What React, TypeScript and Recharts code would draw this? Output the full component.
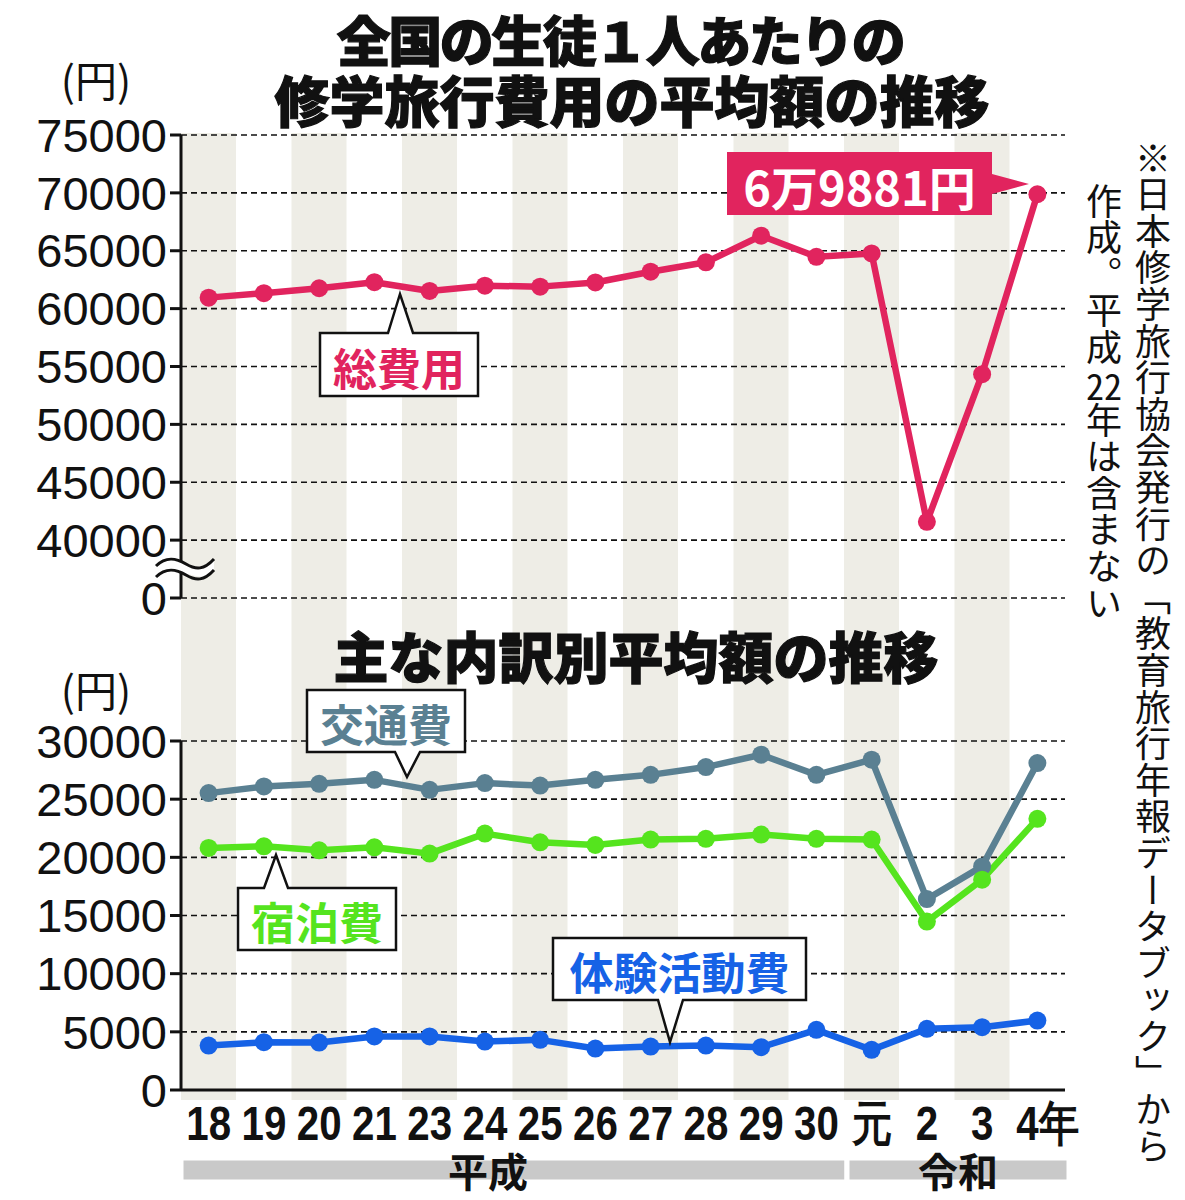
import React from 'react';
import {
  ComposedChart,
  BarChart,
  Bar,
  Line,
  XAxis,
  YAxis,
  CartesianGrid,
  ReferenceArea,
} from 'recharts';

// ---------- data ----------
const years = ['18', '19', '20', '21', '23', '24', '25', '26', '27', '28', '29', '30', '元', '2', '3', '4年'];
const totalCost = [60950, 61330, 61760, 62280, 61530, 61980, 61900, 62260, 63190, 64000, 66300, 64480, 64770, 41580, 54340, 69881];
const transportCost = [25520, 26090, 26320, 26660, 25800, 26380, 26170, 26660, 27090, 27760, 28820, 27090, 28390, 16410, 19220, 28100];
const lodgingCost = [20810, 20950, 20600, 20860, 20320, 22040, 21290, 21060, 21530, 21590, 21960, 21590, 21530, 14480, 18080, 23310];
const activityCost = [3820, 4110, 4080, 4600, 4600, 4160, 4310, 3560, 3730, 3820, 3680, 5170, 3450, 5260, 5400, 5970];
const shadedBands = [1, 0, 1, 0, 1, 0, 1, 0, 1, 0, 1, 0, 1, 0, 1, 0];
const topTickLabels = [0, 40000, 45000, 50000, 55000, 60000, 65000, 70000, 75000];
const bottomTickLabels = [0, 5000, 10000, 15000, 20000, 25000, 30000];
const eras = [
  { name: '平成', from: '18', to: '30', dx: -26 },
  { name: '令和', from: '元', to: '4年', dx: 0 },
];

// axis break: 0..40000 compressed into one 5000 step
const BREAK_AT = 40000;
const BREAK_STEP = 5000;
const toBroken = (v: number) => (v >= BREAK_AT ? v - BREAK_AT + BREAK_STEP : (v / BREAK_AT) * BREAK_STEP);
const fromBroken = (t: number) => (t >= BREAK_STEP ? t + BREAK_AT - BREAK_STEP : (t / BREAK_STEP) * BREAK_AT);

const bandData = years.map((y, i) => ({ year: y, band: shadedBands[i] }));
const topData = years.map((y, i) => ({ year: y, total: toBroken(totalCost[i]) }));
const bottomData = years.map((y, i) => ({
  year: y,
  transport: transportCost[i],
  lodging: lodgingCost[i],
  activity: activityCost[i],
}));

// ---------- style ----------
const W = 1185;
const RIGHT = 120;
const AXIS_W = 181;
const PINK = '#e1245e';
const SLATE = '#5a8092';
const GREEN = '#55e41e';
const BLUE = '#1662e6';
const BAND = '#eeede6';
const NUM_FONT = "'Liberation Sans', Arial, sans-serif";
const JP_FONT = "'Noto Sans CJK JP', 'Noto Sans', sans-serif";

const abs = (top: number): React.CSSProperties => ({ position: 'absolute', left: 0, top });

const XTick = (props: any) => {
  const { x, y, payload } = props;
  const v = String(payload.value);
  const shift = v.endsWith('年') ? 10 : 0;
  return (
    <g transform={`translate(${x + shift},${y + 50}) scale(0.84,1)`}>
      <text
        x={0}
        y={0}
        textAnchor="middle"
        fontSize={48}
        fontWeight="bold"
        fontFamily={NUM_FONT}
        fill="#111"
      >
        {v}
      </text>
    </g>
  );
};

type CalloutProps = {
  x1: number; y1: number; x2: number; y2: number;
  side: 'top' | 'bottom' | 'right';
  b1: number; b2: number; tx: number; ty: number;
  fill: string; text: string; color: string; fontSize: number; strokeColor?: string;
};

const Callout = ({ x1, y1, x2, y2, side, b1, b2, tx, ty, fill, text, color, fontSize, strokeColor }: CalloutProps) => {
  let d = '';
  if (side === 'top') {
    d = `M${x1},${y1} L${b1},${y1} L${tx},${ty} L${b2},${y1} L${x2},${y1} L${x2},${y2} L${x1},${y2} Z`;
  } else if (side === 'bottom') {
    d = `M${x1},${y1} L${x2},${y1} L${x2},${y2} L${b2},${y2} L${tx},${ty} L${b1},${y2} L${x1},${y2} Z`;
  } else {
    d = `M${x1},${y1} L${x2},${y1} L${x2},${b1} L${tx},${ty} L${x2},${b2} L${x2},${y2} L${x1},${y2} Z`;
  }
  return (
    <g>
      <path d={d} fill={fill} stroke={strokeColor || 'none'} strokeWidth={strokeColor ? 2.5 : 0} strokeLinejoin="miter" />
      <text
        x={(x1 + x2) / 2}
        y={(y1 + y2) / 2 + 2}
        textAnchor="middle"
        dominantBaseline="central"
        fontSize={fontSize}
        fontWeight="bold"
        fontFamily={JP_FONT}
        fill={color}
      >
        {text}
      </text>
    </g>
  );
};

export default function App() {
  return (
    <div style={{ position: 'absolute', left: 0, top: 0, width: W, height: 1200, background: '#fff', overflow: 'hidden' }}>
      {/* background category bands */}
      <div style={abs(0)}>
        <BarChart width={W} height={1100} data={bandData} margin={{ top: 133, right: RIGHT, bottom: 0, left: AXIS_W }} barCategoryGap={0}>
          <XAxis dataKey="year" hide />
          <YAxis hide domain={[0, 1]} />
          <Bar dataKey="band" fill={BAND} isAnimationActive={false} />
        </BarChart>
      </div>

      {/* era bars */}
      <div style={abs(0)}>
        <ComposedChart width={W} height={1200} data={bandData} margin={{ top: 1158, right: RIGHT - 4, bottom: 18, left: AXIS_W }}>
          <XAxis dataKey="year" hide scale="band" />
          <YAxis hide domain={[0, 1]} />
          <Line dataKey="band" stroke="none" dot={false} isAnimationActive={false} />
          {eras.map((e) => (
            <ReferenceArea
              key={e.name}
              x1={e.from}
              x2={e.to}
              y1={0}
              y2={1}
              fill="#c9c9c9"
              fillOpacity={1}
              stroke="#fff"
              strokeWidth={5}
              ifOverflow="visible"
              label={{
                value: e.name,
                position: 'center',
                fontSize: 40,
                fontWeight: 'bold',
                fill: '#111',
                fontFamily: JP_FONT,
                dx: e.dx,
                dy: 3,
              } as any}
            />
          ))}
        </ComposedChart>
      </div>

      {/* top chart: total cost */}
      <div style={abs(0)}>
        <ComposedChart width={W} height={620} data={topData} margin={{ top: 135, right: RIGHT, bottom: 22, left: 0 }}>
          <CartesianGrid vertical={false} stroke="#111" strokeDasharray="6 4" strokeWidth={1.6} />
          <XAxis dataKey="year" scale="band" height={0} tick={false} tickLine={false} axisLine={{ stroke: '#111', strokeWidth: 3 }} />
          <YAxis
            width={AXIS_W}
            domain={[0, toBroken(75000)]}
            ticks={topTickLabels.map(toBroken)}
            interval={0}
            tickFormatter={(t: number) => String(Math.round(fromBroken(t)))}
            tick={{ fontSize: 47, fill: '#111', fontFamily: NUM_FONT }}
            tickSize={11}
            tickMargin={3}
            tickLine={{ stroke: '#111', strokeWidth: 3 }}
            axisLine={{ stroke: '#111', strokeWidth: 3 }}
          />
          <Line
            dataKey="total"
            stroke={PINK}
            strokeWidth={6.5}
            strokeLinejoin="round"
            dot={{ r: 9, fill: PINK, stroke: PINK, strokeWidth: 0 }}
            isAnimationActive={false}
          />
        </ComposedChart>
      </div>

      {/* bottom chart: breakdown */}
      <div style={abs(0)}>
        <ComposedChart width={W} height={1200} data={bottomData} margin={{ top: 741, right: RIGHT, bottom: 50, left: 0 }}>
          <CartesianGrid vertical={false} stroke="#111" strokeDasharray="6 4" strokeWidth={1.6} />
          <XAxis
            dataKey="year"
            scale="band"
            height={60}
            interval={0}
            tickSize={0}
            tickMargin={0}
            tickLine={false}
            tick={<XTick />}
            axisLine={{ stroke: '#111', strokeWidth: 3 }}
          />
          <YAxis
            width={AXIS_W}
            domain={[0, 30000]}
            ticks={bottomTickLabels}
            interval={0}
            tick={{ fontSize: 47, fill: '#111', fontFamily: NUM_FONT }}
            tickSize={11}
            tickMargin={3}
            tickLine={{ stroke: '#111', strokeWidth: 3 }}
            axisLine={{ stroke: '#111', strokeWidth: 3 }}
          />
          <Line dataKey="transport" stroke={SLATE} strokeWidth={6.5} strokeLinejoin="round"
            dot={{ r: 9, fill: SLATE, stroke: SLATE, strokeWidth: 0 }} isAnimationActive={false} />
          <Line dataKey="lodging" stroke={GREEN} strokeWidth={6.5} strokeLinejoin="round"
            dot={{ r: 9, fill: GREEN, stroke: GREEN, strokeWidth: 0 }} isAnimationActive={false} />
          <Line dataKey="activity" stroke={BLUE} strokeWidth={6.5} strokeLinejoin="round"
            dot={{ r: 9, fill: BLUE, stroke: BLUE, strokeWidth: 0 }} isAnimationActive={false} />
        </ComposedChart>
      </div>

      {/* annotations overlay */}
      <svg width={W} height={1200} style={{ position: 'absolute', left: 0, top: 0, pointerEvents: 'none' }}>
        <g stroke="#111" strokeWidth={1.2} fill="#111" fontFamily={JP_FONT} fontWeight={900} textAnchor="middle">
          <text x={620} y={62} fontSize={54} letterSpacing={-2.5}>
            全国の生徒１人あたりの
          </text>
          <text x={632} y={122} fontSize={55}>
            修学旅行費用の平均額の推移
          </text>
          <text x={636} y={678} fontSize={55}>
            主な内訳別平均額の推移
          </text>
        </g>
        <text x={96} y={97} textAnchor="middle" fontSize={42} fontFamily={JP_FONT} fill="#111">
          (円)
        </text>
        <text x={96} y={707} textAnchor="middle" fontSize={42} fontFamily={JP_FONT} fill="#111">
          (円)
        </text>

        {/* axis break mark */}
        <path d="M156,566 C166,556 176,558 186,564 S204,570 214,559 L214,570 C204,581 196,575 186,574 S166,566 156,577 Z" fill="#fff" />
        <path d="M156,566 C166,556 176,558 186,564 S204,570 214,559" fill="none" stroke="#111" strokeWidth={3} />
        <path d="M156,577 C166,567 176,569 186,575 S204,581 214,570" fill="none" stroke="#111" strokeWidth={3} />

        <Callout x1={320} y1={333} x2={478} y2={396} side="top" b1={388} b2={413} tx={400} ty={294}
          fill="#fff" strokeColor="#111" text="総費用" color={PINK} fontSize={44} />
        <Callout x1={727} y1={152} x2={992} y2={215} side="right" b1={174} b2={194} tx={1029} ty={184}
          fill={PINK} text="6万9881円" color="#fff" fontSize={47} />
        <Callout x1={307} y1={690} x2={465} y2={752} side="bottom" b1={395} b2={420} tx={407} ty={777}
          fill="#fff" strokeColor="#111" text="交通費" color={SLATE} fontSize={44} />
        <Callout x1={238} y1={888} x2={396} y2={950} side="top" b1={264} b2={288} tx={276} ty={855}
          fill="#fff" strokeColor="#111" text="宿泊費" color={GREEN} fontSize={44} />
        <Callout x1={553} y1={938} x2={806} y2={1000} side="bottom" b1={658} b2={683} tx={670} ty={1042}
          fill="#fff" strokeColor="#111" text="体験活動費" color={BLUE} fontSize={44} />
      </svg>

      {/* vertical source note */}
      <div
        style={{
          position: 'absolute',
          left: 1134,
          top: 140,
          width: 38,
          writingMode: 'vertical-rl',
          fontFamily: JP_FONT,
          fontSize: 36,
          lineHeight: '38px',
          letterSpacing: 0.6,
          color: '#111',
          whiteSpace: 'nowrap',
        }}
      >
        ※日本修学旅行協会発行の「教育旅行年報データブック」から
      </div>
      <div
        style={{
          position: 'absolute',
          left: 1085,
          top: 183,
          width: 38,
          writingMode: 'vertical-rl',
          fontFamily: JP_FONT,
          fontSize: 36,
          lineHeight: '38px',
          letterSpacing: 0.6,
          color: '#111',
          whiteSpace: 'nowrap',
        }}
      >
        作成。平成<span style={{ textCombineUpright: 'all' } as React.CSSProperties}>22</span>年は含まない
      </div>
    </div>
  );
}
